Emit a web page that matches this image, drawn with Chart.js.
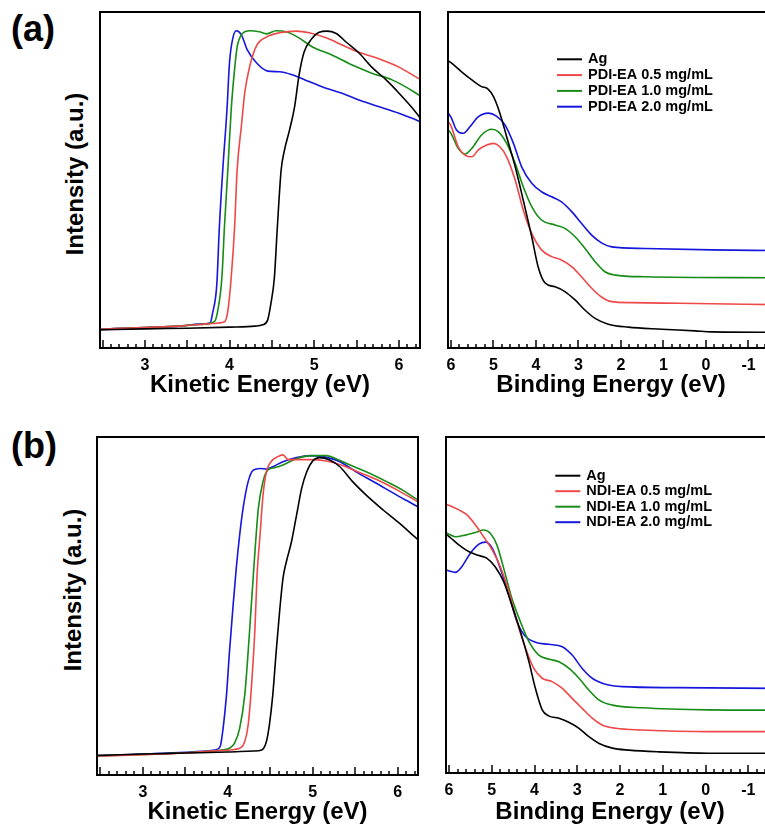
<!DOCTYPE html>
<html>
<head>
<meta charset="utf-8">
<script src="https://cdn.jsdelivr.net/npm/chart.js@4.4.0/dist/chart.umd.min.js"></script>
<style>
body { margin: 0; background: #fff; overflow: hidden; }
#wrap { position: relative; width: 765px; height: 827px; overflow: hidden; font-family: Arial, "Liberation Sans", sans-serif; color: #000; }
canvas { position: absolute; }
.tag { position: absolute; left: 11px; font-weight: bold; font-size: 36px; line-height: 36px; }
.ytitle { position: absolute; font-weight: bold; font-size: 24px; line-height: 24px; white-space: nowrap; transform: translate(-50%, -50%) rotate(-90deg); }
</style>
</head>
<body>
<div id="wrap">
  <div class="tag" style="top:11px">(a)</div>
  <div class="tag" style="top:428px">(b)</div>
  <div class="ytitle" style="left:75px; top:174px">Intensity (a.u.)</div>
  <div class="ytitle" style="left:73px; top:590px">Intensity (a.u.)</div>
  <canvas id="kinA" width="430" height="400" style="left:0; top:0"></canvas>
  <canvas id="bindA" width="370" height="400" style="left:430px; top:0"></canvas>
  <canvas id="kinB" width="430" height="402" style="left:0; top:425px"></canvas>
  <canvas id="bindB" width="370" height="402" style="left:430px; top:425px"></canvas>
</div>
<script>
// tick labels
const kineticTicks = [3, 4, 5, 6];
const bindingTicks = [6, 5, 4, 3, 2, 1, 0, -1];

// series names
const labelsA = ['Ag', 'PDI-EA 0.5 mg/mL', 'PDI-EA 1.0 mg/mL', 'PDI-EA 2.0 mg/mL'];
const labelsB = ['Ag', 'NDI-EA 0.5 mg/mL', 'NDI-EA 1.0 mg/mL', 'NDI-EA 2.0 mg/mL'];
const colors = ['#000000', '#ee4848', '#178c17', '#1616dc'];

// (a) kinetic energy, [eV, intensity]
const kinA_Ag = [[2.47,5.4],[3.0,5.7],[3.5,5.9],[4.0,6.2],[4.3,6.5],[4.39,6.9],[4.45,8.3],[4.49,13.4],[4.53,21],[4.565,36],[4.61,53],[4.65,59],[4.71,65],[4.77,72],[4.82,81],[4.88,88],[4.97,92],[5.06,94],[5.15,94.3],[5.26,93.6],[5.38,91],[5.53,87.8],[5.68,83.6],[5.85,79.8],[6.0,75.9],[6.2,70.2],[6.25,68.5]];
const kinA_05 = [[2.47,5.6],[3.0,6.1],[3.4,6.5],[3.65,7.0],[3.8,7.3],[3.94,7.8],[3.98,11],[4.02,21],[4.06,36],[4.09,53],[4.14,66],[4.18,76],[4.24,84],[4.32,90],[4.44,92.6],[4.59,93.8],[4.79,94.3],[4.94,93.8],[5.14,92.3],[5.33,90.2],[5.53,88],[5.77,86],[6.0,83.6],[6.2,80.7],[6.25,80]];
const kinA_10 = [[2.47,5.6],[3.0,6.1],[3.4,6.5],[3.65,7.0],[3.82,7.8],[3.86,11],[3.91,21],[3.94,36],[3.98,53],[4.02,71],[4.06,83],[4.09,89.6],[4.15,93.5],[4.24,94.4],[4.35,94.1],[4.44,93.5],[4.55,94.4],[4.67,94.1],[4.82,92.3],[4.98,89.6],[5.21,87.2],[5.45,84.2],[5.68,81.8],[5.92,79.8],[6.2,75.9],[6.25,75]];
const kinA_20 = [[2.47,5.6],[3.0,6.1],[3.4,6.5],[3.65,7.1],[3.77,7.4],[3.8,10.4],[3.85,19],[3.88,36],[3.92,53],[3.97,71],[4.0,85],[4.04,92.3],[4.08,94.4],[4.14,93.2],[4.21,88.7],[4.32,84.8],[4.45,82.4],[4.59,82.2],[4.74,81.3],[4.94,79.3],[5.14,77.3],[5.33,75.8],[5.53,73.8],[5.77,71.8],[6.0,69.9],[6.2,67.9],[6.25,67.4]];

// (a) binding energy
const bindA_Ag = [[6.07,85.5],[6.0,84.9],[5.75,82.2],[5.51,79.8],[5.28,77.8],[5.14,77.2],[5.0,74.8],[4.85,69.9],[4.69,62.9],[4.49,54.0],[4.3,44.0],[4.1,33.1],[3.95,24.2],[3.79,19.4],[3.55,18.2],[3.32,16.8],[3.08,14.3],[2.85,11.3],[2.61,8.8],[2.3,7.1],[1.83,6.2],[1.04,5.6],[0.26,5.1],[-0.13,4.8],[-1.6,4.7]];
const bindA_05 = [[6.07,67.5],[6.0,66.1],[5.83,59.9],[5.67,57.4],[5.51,56.9],[5.36,58.9],[5.16,60.4],[5.0,60.9],[4.85,59.9],[4.69,56.9],[4.49,50],[4.3,41.1],[4.1,34.1],[3.87,29.2],[3.63,27.2],[3.4,26.2],[3.16,24.2],[2.93,21.2],[2.69,17.8],[2.45,15.1],[2.22,13.8],[1.75,13.5],[0.65,13.3],[-1.6,12.9]];
const bindA_10 = [[6.07,65],[6.0,63.9],[5.83,59.4],[5.67,57.7],[5.51,59.4],[5.28,63.4],[5.04,65.1],[4.89,64.4],[4.69,60.9],[4.49,55.0],[4.3,48.0],[4.1,42.1],[3.87,38.1],[3.55,36.6],[3.32,35.6],[3.08,33.1],[2.85,29.7],[2.61,25.7],[2.38,22.7],[2.14,21.7],[1.44,21.2],[-1.6,20.9]];
const bindA_20 = [[6.07,70],[6.0,68.7],[5.87,64.9],[5.71,63.9],[5.55,65.9],[5.36,68.8],[5.12,69.9],[4.93,69.0],[4.73,66.4],[4.53,60.9],[4.34,54.0],[4.1,49.0],[3.87,46.5],[3.63,45.0],[3.4,43.5],[3.16,40.6],[2.93,37.1],[2.69,33.6],[2.45,31.2],[2.22,30.1],[1.44,29.6],[-0.13,29.2],[-1.6,29.0]];

// (b) kinetic energy
const kinB_Ag = [[2.46,5.8],[3.0,6.2],[3.5,6.5],[4.0,6.8],[4.3,7.1],[4.4,7.4],[4.455,9.9],[4.49,14.8],[4.53,23.7],[4.57,36.5],[4.61,48.3],[4.65,58.2],[4.69,63.1],[4.75,69.0],[4.81,76.9],[4.87,84.8],[4.93,89.7],[5.0,92.9],[5.08,93.9],[5.2,93.2],[5.32,91.2],[5.47,86.8],[5.63,82.8],[5.83,78.4],[6.02,74.5],[6.2,70.5],[6.24,69.6]];
const kinB_05 = [[2.46,5.6],[3.0,6.0],[3.5,6.5],[3.9,7.2],[4.14,7.9],[4.2,9.9],[4.24,14.8],[4.28,26.6],[4.32,43.4],[4.345,59.2],[4.38,71.0],[4.415,82.8],[4.455,89.7],[4.51,92.7],[4.59,94.2],[4.65,94.7],[4.71,93.3],[4.81,93.3],[4.97,93.3],[5.16,92.9],[5.36,91.5],[5.55,89.5],[5.79,87.0],[6.02,84.0],[6.2,81.4],[6.24,80.8]];
const kinB_10 = [[2.46,5.6],[3.0,6.1],[3.5,6.6],[3.9,7.3],[4.02,7.9],[4.08,9.4],[4.14,13.8],[4.2,23.7],[4.24,36.5],[4.28,51.3],[4.32,66.1],[4.36,78.9],[4.415,86.8],[4.47,90.2],[4.55,90.9],[4.65,91.7],[4.77,93.2],[4.89,94.2],[5.04,94.5],[5.16,94.5],[5.28,93.5],[5.44,91.7],[5.63,89.7],[5.87,86.8],[6.06,84.3],[6.2,82.0],[6.24,81.5]];
const kinB_20 = [[2.46,5.7],[3.0,6.2],[3.5,6.7],[3.8,7.2],[3.85,7.4],[3.91,8.4],[3.945,13.8],[3.985,23.7],[4.02,36.5],[4.06,49.3],[4.1,61.2],[4.14,71.0],[4.18,78.9],[4.24,86.8],[4.3,90.2],[4.38,90.7],[4.455,90.5],[4.53,91.2],[4.65,92.7],[4.81,93.9],[4.97,94.5],[5.12,94.2],[5.32,92.7],[5.51,89.7],[5.75,86.3],[5.99,82.8],[6.2,79.9],[6.24,79.3]];

// (b) binding energy
const bindB_Ag = [[6.07,71],[5.99,70.3],[5.77,67.9],[5.54,65.9],[5.3,64.7],[5.11,63.9],[4.92,61.4],[4.72,56.9],[4.53,50.0],[4.33,42.1],[4.13,33.1],[3.98,25.2],[3.82,18.8],[3.67,17.0],[3.43,16.3],[3.2,15.1],[2.96,13.3],[2.73,10.8],[2.49,8.8],[2.18,7.4],[1.79,6.8],[1.09,6.3],[-0.08,5.9],[-1.6,5.9]];
const bindB_05 = [[6.07,80],[5.99,79.6],[5.77,78.3],[5.58,76.8],[5.38,73.8],[5.19,70.3],[4.99,66.4],[4.8,61.4],[4.6,54.0],[4.41,45.0],[4.21,37.1],[4.02,31.2],[3.82,28.2],[3.59,27.2],[3.35,25.2],[3.12,22.2],[2.89,19.3],[2.65,16.3],[2.42,14.3],[2.1,13.3],[1.48,12.8],[-0.08,12.3],[-1.6,12.3]];
const bindB_10 = [[6.07,71.5],[5.99,71.0],[5.85,70.3],[5.62,70.8],[5.38,71.6],[5.19,72.3],[5.03,71.3],[4.88,67.9],[4.72,60.9],[4.53,52.0],[4.33,45.0],[4.13,39.1],[3.9,35.1],[3.67,33.9],[3.43,33.1],[3.2,31.2],[2.96,28.2],[2.73,24.7],[2.49,21.7],[2.18,20.2],[1.48,19.4],[-0.08,18.8],[-1.6,18.7]];
const bindB_20 = [[6.07,60.5],[5.99,60.1],[5.85,59.7],[5.7,61.4],[5.5,65.4],[5.3,68.1],[5.15,68.7],[4.99,66.9],[4.8,60.9],[4.6,53.0],[4.41,45.0],[4.21,40.6],[3.98,38.9],[3.67,38.3],[3.35,37.6],[3.12,35.1],[2.89,31.2],[2.65,28.2],[2.34,26.4],[1.95,25.7],[0.7,25.4],[-1.6,25.2]];

Chart.defaults.font.family = 'Arial, "Liberation Sans", sans-serif';
Chart.defaults.color = '#000';

// box frame, inward ticks on the bottom axis, and the legend inside the plot
const framePlugin = {
  id: 'frame',
  afterDatasetsDraw(chart, args, opts) {
    const { ctx, chartArea: a } = chart;
    const x = chart.scales.x;
    ctx.save();
    ctx.strokeStyle = '#000';
    ctx.lineWidth = 2;
    ctx.strokeRect(a.left, a.top, a.right - a.left, a.bottom - a.top);

    ctx.lineWidth = 1.5;
    const lo = Math.min(x.min, x.max), hi = Math.max(x.min, x.max);
    for (let i = Math.ceil(lo / opts.minor - 1e-6); i * opts.minor <= hi + 1e-6; i++) {
      const v = i * opts.minor;
      const px = Math.round(x.getPixelForValue(v));
      const r = v / opts.major;
      const len = Math.abs(r - Math.round(r)) < 1e-6 ? 8 : 4;
      ctx.beginPath();
      ctx.moveTo(px, a.bottom);
      ctx.lineTo(px, a.bottom - len);
      ctx.stroke();
    }

    if (opts.legend) {
      const L = opts.legend;
      ctx.font = 'bold 14.5px Arial, "Liberation Sans", sans-serif';
      ctx.textBaseline = 'middle';
      ctx.fillStyle = '#000';
      chart.data.datasets.forEach((ds, i) => {
        const y = a.top + L.y + i * L.row;
        const x0 = a.left + L.x;
        ctx.strokeStyle = ds.borderColor;
        ctx.lineWidth = 2;
        ctx.beginPath();
        ctx.moveTo(x0, y);
        ctx.lineTo(x0 + 25, y);
        ctx.stroke();
        ctx.fillText(ds.label, x0 + 31, y);
      });
    }
    ctx.restore();
  }
};

function makePanel(id, cfg) {
  return new Chart(document.getElementById(id), {
    type: 'line',
    data: {
      datasets: cfg.series.map((s, i) => ({
        label: cfg.labels[i],
        data: s,
        borderColor: colors[i],
        borderWidth: 1.6,
        pointRadius: 0,
        fill: false,
        cubicInterpolationMode: 'monotone'
      }))
    },
    options: {
      responsive: false,
      animation: false,
      devicePixelRatio: 1,
      layout: { padding: cfg.padding },
      plugins: {
        legend: { display: false },
        tooltip: { enabled: false },
        frame: { minor: cfg.minor, major: cfg.major, legend: cfg.legend }
      },
      scales: {
        x: {
          type: 'linear',
          min: cfg.min,
          max: cfg.max,
          reverse: cfg.reverse,
          grid: { display: false, drawTicks: false },
          border: { display: false },
          afterBuildTicks: s => { s.ticks = cfg.ticks.map(v => ({ value: v })); },
          afterFit: s => { s.height = cfg.axisHeight; },
          ticks: {
            padding: 8,
            maxRotation: 0,
            autoSkip: false,
            font: { size: 16, weight: 'bold' },
            color: '#000'
          },
          title: {
            display: true,
            text: cfg.title,
            font: { size: 24, weight: 'bold' },
            color: '#000',
            padding: { top: 0, bottom: 0 }
          }
        },
        y: { display: false, min: 0, max: 100 }
      }
    },
    plugins: [framePlugin]
  });
}

makePanel('kinA', {
  series: [kinA_Ag, kinA_05, kinA_10, kinA_20], labels: labelsA,
  min: 2.47, max: 6.25, reverse: false, ticks: kineticTicks, minor: 0.1, major: 0.5,
  padding: { left: 100, top: 12, right: 10, bottom: 0 }, axisHeight: 52,
  title: 'Kinetic Energy (eV)', legend: null
});
makePanel('bindA', {
  series: [bindA_Ag, bindA_05, bindA_10, bindA_20], labels: labelsA,
  min: -1.6, max: 6.07, reverse: true, ticks: bindingTicks, minor: 0.2, major: 1,
  padding: { left: 18, top: 12, right: 26, bottom: 0 }, axisHeight: 52,
  title: 'Binding Energy (eV)', legend: { x: 109, y: 47.3, row: 15.8 }
});
makePanel('kinB', {
  series: [kinB_Ag, kinB_05, kinB_10, kinB_20], labels: labelsB,
  min: 2.46, max: 6.24, reverse: false, ticks: kineticTicks, minor: 0.1, major: 0.5,
  padding: { left: 97, top: 12, right: 12, bottom: 0 }, axisHeight: 52,
  title: 'Kinetic Energy (eV)', legend: null
});
makePanel('bindB', {
  series: [bindB_Ag, bindB_05, bindB_10, bindB_20], labels: labelsB,
  min: -1.6, max: 6.07, reverse: true, ticks: bindingTicks, minor: 0.2, major: 1,
  padding: { left: 16, top: 12, right: 26, bottom: 0 }, axisHeight: 54,
  title: 'Binding Energy (eV)', legend: { x: 109.3, y: 38.7, row: 15.5 }
});
</script>
</body>
</html>
